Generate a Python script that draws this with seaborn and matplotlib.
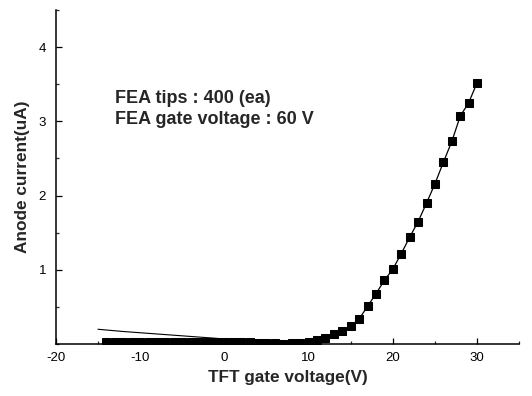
import matplotlib
matplotlib.use("Agg")
import matplotlib.pyplot as plt
from matplotlib.ticker import MultipleLocator
import seaborn as sns
import pandas as pd

# Forward sweep (square markers)
gate_v = list(range(-14, 31))
anode_i = [0.03, 0.03, 0.03, 0.03, 0.03, 0.03, 0.03, 0.03, 0.03, 0.03,
           0.03, 0.03, 0.03, 0.03, 0.03, 0.03, 0.025, 0.025, 0.02, 0.02,
           0.02, 0.0, 0.01, 0.02, 0.03, 0.05, 0.08, 0.13, 0.18, 0.24,
           0.34, 0.51, 0.68, 0.86, 1.01, 1.22, 1.44, 1.65, 1.90, 2.16,
           2.45, 2.73, 3.07, 3.25, 3.52]

# Reverse sweep (thin line, no markers)
rev_v = [-15, -12, -9, -6, -3, 0, 3, 6, 9]
rev_i = [0.20, 0.17, 0.145, 0.12, 0.095, 0.07, 0.05, 0.035, 0.03]

xticks = [-20, -10, 0, 10, 20, 30]
yticks = [1, 2, 3, 4]
note_lines = ["FEA tips : 400 (ea)", "FEA gate voltage : 60 V"]

sns.set_style("ticks")
plt.rcParams["font.family"] = ["Liberation Sans", "DejaVu Sans"]
plt.rcParams["axes.unicode_minus"] = False

fig = plt.figure(figsize=(5.32, 3.96), dpi=100)
ax = fig.add_axes([0.105, 0.131, 0.871, 0.844])

fwd = pd.DataFrame({"v": gate_v, "i": anode_i})
rev = pd.DataFrame({"v": rev_v, "i": rev_i})

sns.lineplot(data=rev, x="v", y="i", ax=ax, color="black", linewidth=0.8)
sns.lineplot(data=fwd, x="v", y="i", ax=ax, color="black", linewidth=0.9,
             marker="s", markersize=5.6, markeredgecolor="black",
             markerfacecolor="black")

ax.set_xlim(-20, 35)
ax.set_ylim(0, 4.5)
ax.set_xticks(xticks)
ax.set_yticks(yticks)
ax.xaxis.set_minor_locator(MultipleLocator(5))
ax.yaxis.set_minor_locator(MultipleLocator(0.5))
ax.tick_params(axis="both", which="major", direction="in", length=4,
               width=0.9, labelsize=9.5, colors="black")
ax.tick_params(axis="both", which="minor", direction="in", length=2.5,
               width=0.9)
ax.tick_params(axis="y", pad=7)
ax.tick_params(axis="x", pad=6)

for s in ["top", "right"]:
    ax.spines[s].set_visible(False)
for s in ["left", "bottom"]:
    ax.spines[s].set_linewidth(1.1)
    ax.spines[s].set_color("black")

ax.set_xlabel("TFT gate voltage(V)", fontsize=12.4, fontweight="bold", labelpad=4)
ax.set_ylabel("Anode current(uA)", fontsize=12.4, fontweight="bold", labelpad=6)

ax.text(-13.0, 3.24, note_lines[0], fontsize=13, fontweight="bold",
        va="baseline", ha="left")
ax.text(-13.0, 2.97, note_lines[1], fontsize=13, fontweight="bold",
        va="baseline", ha="left")

fig.savefig("out.png", dpi=100)
